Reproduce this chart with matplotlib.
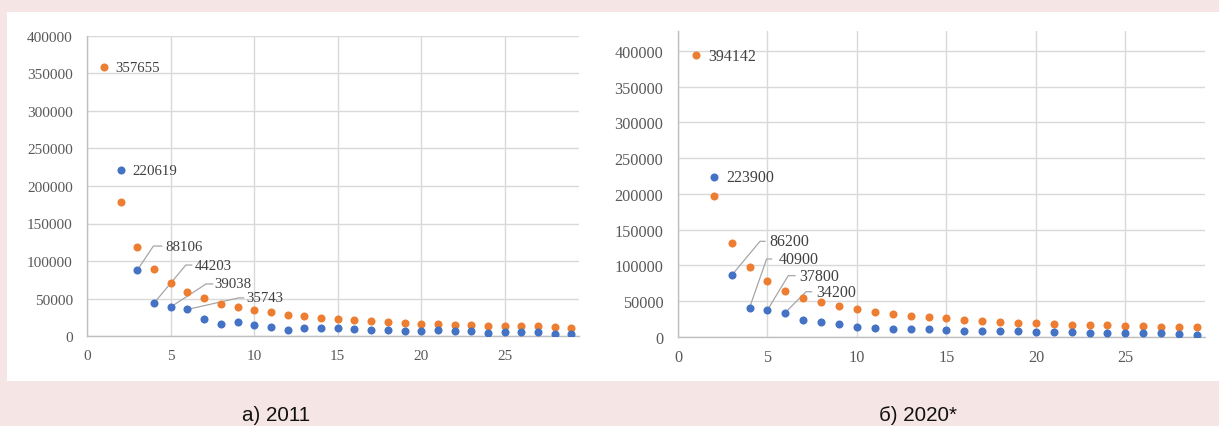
import matplotlib
matplotlib.use("Agg")
import matplotlib.pyplot as plt
from matplotlib.patches import Rectangle

# ---------------- data ----------------
ranks = list(range(1, 30))

# 2011
orange_2011 = [357655, 179000, 119000, 89000, 71200, 58800, 50300, 43600, 38700, 35600,
               32000, 28500, 26700, 24500, 23100, 21400, 20500, 18700, 17800, 16900,
               16000, 15600, 15100, 14200, 14200, 13400, 13400, 12500, 11600]
blue_ranks_2011 = list(range(2, 30))
blue_2011 = [220619, 88106, 44203, 39038, 35743, 23600, 16500, 19600, 14700, 12900,
             8900, 11600, 10700, 10700, 9800, 8000, 8000, 7100, 7100, 8000,
             7100, 7100, 4500, 5300, 6200, 5300, 3600, 2700]

# 2020
orange_2020 = [394142, 197500, 131300, 97300, 77800, 64700, 55000, 48400, 43300, 38700,
               34900, 31700, 29300, 27500, 26100, 23800, 22800, 21000, 20000, 19100,
               18200, 17200, 16800, 16800, 15800, 14900, 14400, 13500, 13500]
blue_ranks_2020 = list(range(2, 30))
blue_2020 = [223900, 86200, 40900, 37800, 34200, 23800, 21000, 18200, 14400, 12600,
             11600, 11600, 10700, 9800, 8800, 8800, 7900, 7900, 7000, 7000,
             7000, 6100, 6100, 6100, 6100, 5100, 4200, 2300]

x_ticks = [0, 5, 10, 15, 20, 25]
y_ticks = [0, 50000, 100000, 150000, 200000, 250000, 300000, 350000, 400000]
captions = ["а) 2011", "б) 2020*"]

BLUE = "#4472C4"
ORANGE = "#ED7D31"
GRID = "#d9d9d9"
TICKC = "#595959"
LABELC = "#404040"
LEADER = "#a6a6a6"

W, H = 1219, 427
fig = plt.figure(figsize=(W / 100, H / 100), dpi=100)
fig.patch.set_facecolor("#f5e5e5")
bg = Rectangle((7 / W, (H - 382) / H), (W - 7) / W, (382 - 12.5) / H,
               transform=fig.transFigure, facecolor="white",
               edgecolor="none", zorder=-10)
fig.patches.append(bg)


def px_axes(x0, x1, ytop, ybot):
    ax = fig.add_axes([x0 / W, (H - ybot) / H, (x1 - x0) / W, (ybot - ytop) / H])
    ax.set_zorder(5)
    return ax


def style(ax, ymax, fs):
    ax.set_xlim(0, 29.45)
    ax.set_ylim(0, ymax)
    ax.set_xticks(x_ticks)
    ax.set_yticks(y_ticks)
    ax.set_xticklabels([str(t) for t in x_ticks])
    ax.set_yticklabels([str(t) for t in y_ticks])
    ax.patch.set_visible(False)
    for s in ["top", "right"]:
        ax.spines[s].set_visible(False)
    for s in ["left", "bottom"]:
        ax.spines[s].set_color("#bfbfbf")
        ax.spines[s].set_linewidth(1.0)
    ax.grid(True, color=GRID, linewidth=1.0)
    ax.set_axisbelow(True)
    ax.tick_params(length=0, labelsize=fs, labelcolor=TICKC)
    ax.tick_params(axis="y", pad=10.5)
    ax.tick_params(axis="x", pad=9)
    for lab in ax.get_xticklabels() + ax.get_yticklabels():
        lab.set_fontfamily("Liberation Serif")


def leader(ax, x, y, text, dx1, dy1, dx2, dxt, fs):
    p0 = ax.transData.transform((x, y))
    pts = [p0, (p0[0] + dx1, p0[1] + dy1), (p0[0] + dx2, p0[1] + dy1)]
    d = ax.transData.inverted().transform(pts)
    ax.plot(d[:, 0], d[:, 1], color=LEADER, lw=0.9, clip_on=False, zorder=2)
    ax.annotate(text, xy=(x, y), xytext=(dxt, dy1), textcoords="offset pixels",
                ha="left", va="center", fontsize=fs, color=LABELC,
                family="Liberation Serif", zorder=4)


def plain(ax, x, y, text, dx, dy, fs):
    ax.annotate(text, xy=(x, y), xytext=(dx, dy), textcoords="offset pixels",
                ha="left", va="center", fontsize=fs, color=LABELC,
                family="Liberation Serif", zorder=4)


MS = 5.8

# ---------------- left chart (2011) ----------------
ax1 = px_axes(87.3, 579, 36.5, 337.3)
style(ax1, 400000, 11)
ax1.plot(ranks, orange_2011, "o", color=ORANGE, ms=MS, mew=0, zorder=3)
ax1.plot(blue_ranks_2011, blue_2011, "o", color=BLUE, ms=MS, mew=0, zorder=3)
fs1 = 10.7
plain(ax1, ranks[0], orange_2011[0], str(orange_2011[0]), 11.5, -0.5, fs1)
plain(ax1, blue_ranks_2011[0], blue_2011[0], str(blue_2011[0]), 11.5, -0.5, fs1)
leader(ax1, blue_ranks_2011[1], blue_2011[1], str(blue_2011[1]), 16, 24, 24.4, 27.5, fs1)
leader(ax1, blue_ranks_2011[2], blue_2011[2], str(blue_2011[2]), 31.7, 38, 37.7, 41, fs1)
leader(ax1, blue_ranks_2011[3], blue_2011[3], str(blue_2011[3]), 35.3, 23, 42, 44, fs1)
leader(ax1, blue_ranks_2011[4], blue_2011[4], str(blue_2011[4]), 51, 11.5, 56, 58.5, fs1)

# ---------------- right chart (2020) ----------------
ax2 = px_axes(678, 1205, 31.7, 338)
style(ax2, 428000, 11.7)
ax2.plot(ranks, orange_2020, "o", color=ORANGE, ms=MS, mew=0, zorder=3)
ax2.plot(blue_ranks_2020, blue_2020, "o", color=BLUE, ms=MS, mew=0, zorder=3)
fs2 = 11.5
plain(ax2, ranks[0], orange_2020[0], str(orange_2020[0]), 12.5, -1, fs2)
plain(ax2, blue_ranks_2020[0], blue_2020[0], str(blue_2020[0]), 12.5, -0.5, fs2)
leader(ax2, blue_ranks_2020[1], blue_2020[1], str(blue_2020[1]), 28.3, 34, 33.3, 37.5, fs2)
leader(ax2, blue_ranks_2020[2], blue_2020[2], str(blue_2020[2]), 17, 48.7, 22, 29, fs2)
leader(ax2, blue_ranks_2020[3], blue_2020[3], str(blue_2020[3]), 20.8, 34.3, 27.5, 32, fs2)
leader(ax2, blue_ranks_2020[4], blue_2020[4], str(blue_2020[4]), 20.6, 20.8, 26.3, 30.5, fs2)

# ---------------- captions ----------------
fig.text(242.3 / W, (H - 416) / H, captions[0], ha="left", va="center",
         fontsize=14.8, family="Liberation Sans", color="#111111")
fig.text(879.3 / W, (H - 416) / H, captions[1], ha="left", va="center",
         fontsize=14.8, family="Liberation Sans", color="#111111")

fig.savefig("out.png", dpi=100, facecolor=fig.get_facecolor())
